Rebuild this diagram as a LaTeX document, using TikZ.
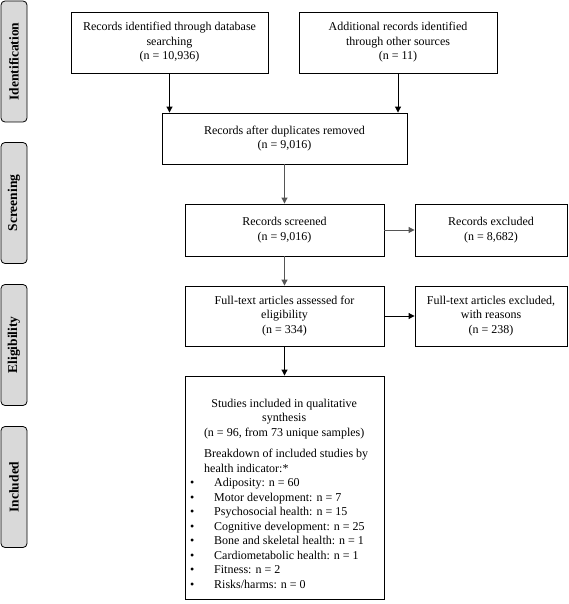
\documentclass[tikz,border=0pt]{standalone}
\usepackage{fontspec}
\setmainfont{Liberation Serif}
\usetikzlibrary{arrows.meta}
\definecolor{phasegray}{RGB}{217,217,217}
\definecolor{arrgray}{RGB}{85,85,85}
\newcommand{\bul}{\makebox[25pt][l]{\hspace{1pt}\textbullet}}
\begin{document}
\begin{tikzpicture}[x=1pt,y=1pt,
  box/.style={draw=black, line width=0.9pt, fill=white, inner sep=0pt, align=center,
    font=\fontsize{12}{14.5}\selectfont},
  phase/.style={draw=black, line width=0.8pt, fill=phasegray, rounded corners=4pt,
    rotate=90, inner sep=0pt, minimum width=121pt, minimum height=26pt,
    font=\fontsize{13.5}{16}\selectfont\bfseries},
  arr/.style={draw=black, line width=1pt, -{Triangle[length=6pt,width=6pt]}},
  garr/.style={arr, draw=arrgray, fill=black}
]
\useasboundingbox (0,0) rectangle (568,-604);

% phase labels
\node[phase] (pid) at (14,-61.5) {Identification};
\node[phase] (psc) at (14,-203) {Screening};
\node[phase] (pel) at (14,-345) {Eligibility};
\node[phase] (pin) at (14,-487) {Included};

% boxes
\node[box, minimum width=197pt, minimum height=61pt] (A) at (169.5,-42.5)
  {Records identified through database\\ searching\\ (n = 10,936)};
\node[box, minimum width=198pt, minimum height=61pt] (B) at (398,-42.5)
  {Additional records identified\\ through other sources\\ (n = 11)};
\node[box, minimum width=245pt, minimum height=51pt] (C) at (284.5,-138.5)
  {Records after duplicates removed\\ (n = 9,016)};
\node[box, minimum width=199pt, minimum height=52pt] (D) at (284.5,-230)
  {Records screened\\ (n = 9,016)};
\node[box, minimum width=152pt, minimum height=52pt] (E) at (491,-230)
  {Records excluded\\ (n = 8,682)};
\node[box, minimum width=199pt, minimum height=60pt] (F) at (284.5,-316)
  {Full-text articles assessed for\\ eligibility\\ (n = 334)};
\node[box, minimum width=152pt, minimum height=60pt] (G) at (491,-316)
  {Full-text articles excluded,\\ with reasons\\ (n = 238)};
\node[box, minimum width=199pt, minimum height=223pt] (H) at (284.5,-487.5) {};
\node[anchor=base west, inner sep=0pt, font=\fontsize{12}{14.5}\selectfont] (Htxt) at (189,-407)
{\begin{minipage}[t]{190pt}
\centering
Studies included in qualitative\\ synthesis\\ (n = 96, from 73 unique samples)\par
\vspace{7pt}
\raggedright
\hspace*{15pt}Breakdown of included studies by\\
\hspace*{15pt}health indicator:*\\
\bul Adiposity: n = 60\\
\bul Motor development: n = 7\\
\bul Psychosocial health: n = 15\\
\bul Cognitive development: n = 25\\
\bul Bone and skeletal health: n = 1\\
\bul Cardiometabolic health: n = 1\\
\bul Fitness: n = 2\\
\bul Risks/harms: n = 0
\end{minipage}};

% connectors
\draw[arr] (A.south) -- (A.south |- C.north);
\draw[arr] (B.south) -- (B.south |- C.north);
\draw[garr] (C.south) -- (D.north);
\draw[garr] (D.east) -- (E.west);
\draw[garr] (D.south) -- (F.north);
\draw[arr] (F.east) -- (G.west);
\draw[arr] (F.south) -- (H.north);
\end{tikzpicture}
\end{document}
